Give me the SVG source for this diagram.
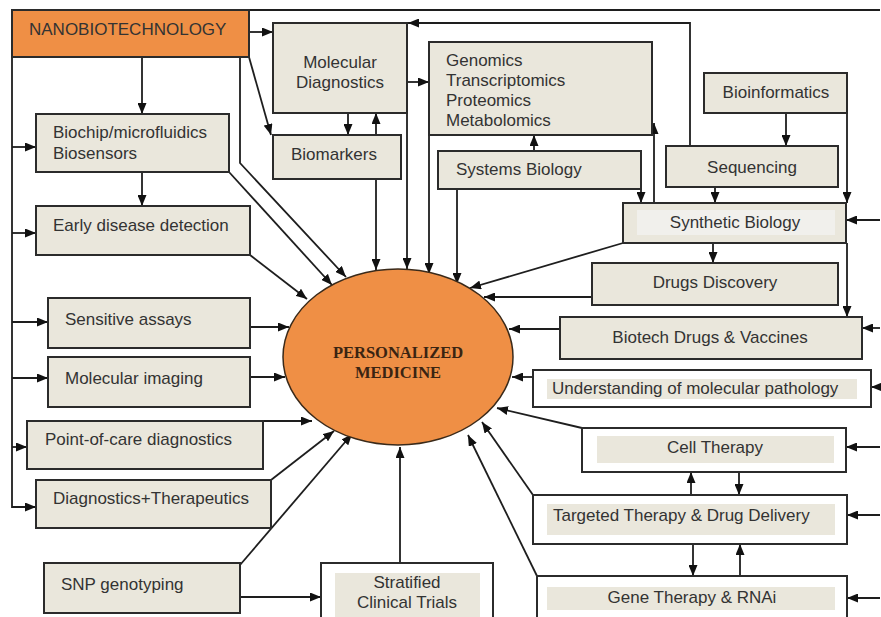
<svg xmlns="http://www.w3.org/2000/svg" width="881" height="617" viewBox="0 0 881 617">
<defs>
<style>
.bx{fill:#EAE7DC;stroke:#2b2b2b;stroke-width:2}
.wb{fill:#FFFFFF;stroke:#2b2b2b;stroke-width:2}
.in{fill:#EAE7DC;stroke:none}
.inl{fill:#F1F0EC;stroke:none}
.t{font-family:"Liberation Sans",Arial,sans-serif;font-size:17px;fill:#333333}
.c{text-anchor:middle}
.ln{fill:none;stroke:#1e1e1e;stroke-width:1.8}
.ar{marker-end:url(#ah)}
</style>
<marker id="ah" markerWidth="11" markerHeight="9" refX="11" refY="4.5" orient="auto" markerUnits="userSpaceOnUse">
<path d="M0,0 L11,4.5 L0,9 z" fill="#111111"/>
</marker>
</defs>
<rect width="881" height="617" fill="#FFFFFF"/>

<g id="connectors">
<path class="ln" d="M249,10 H880"/>
<path class="ln ar" d="M249,32 H273"/>
<path class="ln ar" d="M249,57 L271,135"/>
<path class="ln ar" d="M142,57 V114"/>
<path class="ln ar" d="M240,57 V163 L346,277"/>
<path class="ln ar" d="M12,57 V507 H36"/>
<path class="ln ar" d="M12,147 H36"/>
<path class="ln ar" d="M12,233 H36"/>
<path class="ln ar" d="M12,322 H48"/>
<path class="ln ar" d="M12,378 H48"/>
<path class="ln ar" d="M12,447 H27"/>
<path class="ln ar" d="M142,172 V206"/>
<path class="ln ar" d="M229,172 L332,285"/>
<path class="ln ar" d="M250,255 L307,299"/>
<path class="ln ar" d="M250,327 H289"/>
<path class="ln ar" d="M250,377 H285"/>
<path class="ln ar" d="M263,421 H312"/>
<path class="ln ar" d="M271,480 L334,431"/>
<path class="ln ar" d="M240,565 L352,434"/>
<path class="ln ar" d="M240,597 H321"/>
<path class="ln ar" d="M400,563 V447"/>
<path class="ln ar" d="M348,113 V135"/>
<path class="ln ar" d="M376,135 V113"/>
<path class="ln ar" d="M376,179 V270"/>
<path class="ln ar" d="M407,113 V269"/>
<path class="ln ar" d="M407,82 H429"/>
<path class="ln ar" d="M429,136 V274"/>
<path class="ln ar" d="M534,151 V135"/>
<path class="ln ar" d="M457,189 V284"/>
<path class="ln ar" d="M641,189 V203"/>
<path class="ln ar" d="M654,203 V123"/>
<path class="ln ar" d="M690,146 V23 H408"/>
<path class="ln ar" d="M786,113 V146"/>
<path class="ln ar" d="M715,187 V203"/>
<path class="ln ar" d="M847,113 V203"/>
<path class="ln ar" d="M847,243 V317"/>
<path class="ln ar" d="M713,243 V263"/>
<path class="ln ar" d="M623,243 L470,288"/>
<path class="ln ar" d="M592,297 H484"/>
<path class="ln ar" d="M560,329 H509"/>
<path class="ln ar" d="M533,377 H512"/>
<path class="ln ar" d="M582,428 L497,408"/>
<path class="ln ar" d="M533,495 L482,422"/>
<path class="ln ar" d="M537,576 L468,435"/>
<path class="ln ar" d="M691,495 V472"/>
<path class="ln ar" d="M739,472 V495"/>
<path class="ln ar" d="M693,544 V576"/>
<path class="ln ar" d="M740,576 V544"/>
<path class="ln ar" d="M880,220 H846"/>
<path class="ln ar" d="M880,328 H862"/>
<path class="ln ar" d="M880,387 H871"/>
<path class="ln ar" d="M880,447 H846"/>
<path class="ln ar" d="M880,515 H847"/>
<path class="ln ar" d="M880,598 H847"/>
</g>

<g id="nanobiotechnology">
<rect x="12" y="10" width="237" height="47" fill="#EF8F45" stroke="#2b2b2b" stroke-width="2"/>
<text class="t" x="29" y="35">NANOBIOTECHNOLOGY</text>
</g>
<g id="biochip">
<rect class="bx" x="36" y="114" width="193" height="58"/>
<text class="t" x="53" y="138">Biochip/microfluidics</text>
<text class="t" x="53" y="159">Biosensors</text>
</g>
<g id="early-detection">
<rect class="bx" x="36" y="206" width="214" height="49"/>
<text class="t" x="53" y="231">Early disease detection</text>
</g>
<g id="sensitive-assays">
<rect class="bx" x="48" y="298" width="202" height="50"/>
<text class="t" x="65" y="325">Sensitive assays</text>
</g>
<g id="molecular-imaging">
<rect class="bx" x="48" y="357" width="202" height="50"/>
<text class="t" x="65" y="384">Molecular imaging</text>
</g>
<g id="point-of-care">
<rect class="bx" x="27" y="421" width="236" height="48"/>
<text class="t" x="45" y="445">Point-of-care diagnostics</text>
</g>
<g id="diagnostics-therapeutics">
<rect class="bx" x="36" y="480" width="235" height="48"/>
<text class="t" x="53" y="504">Diagnostics+Therapeutics</text>
</g>
<g id="snp-genotyping">
<rect class="bx" x="44" y="563" width="196" height="50"/>
<text class="t" x="61" y="590">SNP genotyping</text>
</g>
<g id="stratified-trials">
<rect class="wb" x="321" y="563" width="172" height="60"/>
<rect class="in" x="335" y="573" width="145" height="44"/>
<text class="t c" x="407" y="588">Stratified</text>
<text class="t c" x="407" y="608">Clinical Trials</text>
</g>
<g id="molecular-diagnostics">
<rect class="bx" x="273" y="23" width="134" height="90"/>
<text class="t c" x="340" y="68">Molecular</text>
<text class="t c" x="340" y="88">Diagnostics</text>
</g>
<g id="biomarkers">
<rect class="bx" x="273" y="135" width="128" height="44"/>
<text class="t" x="291" y="160">Biomarkers</text>
</g>
<g id="omics">
<rect class="bx" x="429" y="42" width="223" height="93"/>
<text class="t" x="446" y="66">Genomics</text>
<text class="t" x="446" y="86">Transcriptomics</text>
<text class="t" x="446" y="106">Proteomics</text>
<text class="t" x="446" y="126">Metabolomics</text>
</g>
<g id="systems-biology">
<rect class="bx" x="438" y="151" width="203" height="38"/>
<text class="t" x="456" y="175">Systems Biology</text>
</g>
<g id="bioinformatics">
<rect class="bx" x="704" y="73" width="143" height="40"/>
<text class="t c" x="776" y="98">Bioinformatics</text>
</g>
<g id="sequencing">
<rect class="bx" x="666" y="146" width="172" height="41"/>
<text class="t c" x="752" y="173">Sequencing</text>
</g>
<g id="synthetic-biology">
<rect class="bx" x="623" y="203" width="223" height="40"/>
<rect class="inl" x="637" y="210" width="198" height="25"/>
<text class="t c" x="735" y="228">Synthetic Biology</text>
</g>
<g id="drugs-discovery">
<rect class="bx" x="592" y="263" width="246" height="42"/>
<text class="t c" x="715" y="288">Drugs Discovery</text>
</g>
<g id="biotech-drugs">
<rect class="bx" x="560" y="317" width="302" height="42"/>
<text class="t c" x="710" y="343">Biotech Drugs &amp; Vaccines</text>
</g>
<g id="molecular-pathology">
<rect class="wb" x="533" y="370" width="338" height="37"/>
<rect class="in" x="547" y="379" width="310" height="20"/>
<text class="t" x="552" y="394">Understanding of molecular pathology</text>
</g>
<g id="cell-therapy">
<rect class="wb" x="582" y="428" width="264" height="44"/>
<rect class="in" x="597" y="436" width="237" height="27"/>
<text class="t c" x="715" y="453">Cell Therapy</text>
</g>
<g id="targeted-therapy">
<rect class="wb" x="533" y="495" width="314" height="49"/>
<rect class="in" x="547" y="504" width="288" height="31"/>
<text class="t" x="553" y="521">Targeted Therapy &amp; Drug Delivery</text>
</g>
<g id="gene-therapy">
<rect class="wb" x="537" y="576" width="310" height="50"/>
<rect class="in" x="547" y="587" width="288" height="23"/>
<text class="t c" x="692" y="603">Gene Therapy &amp; RNAi</text>
</g>
<g id="personalized-medicine">
<ellipse cx="398" cy="357" rx="115" ry="88" fill="#EF8F45" stroke="#3a2a1a" stroke-width="1.5"/>
<text x="398" y="358" text-anchor="middle" font-family="'Liberation Serif','Times New Roman',serif" font-weight="bold" font-size="16.5" fill="#3a2412">PERSONALIZED</text>
<text x="398" y="378" text-anchor="middle" font-family="'Liberation Serif','Times New Roman',serif" font-weight="bold" font-size="16.5" fill="#3a2412">MEDICINE</text>
</g>
</svg>
